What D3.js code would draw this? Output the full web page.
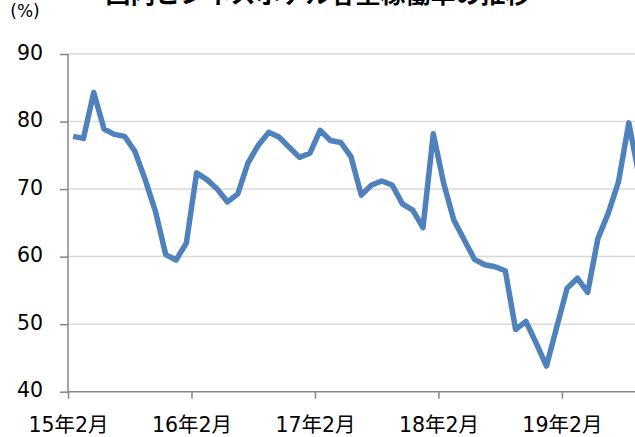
<!DOCTYPE html>
<meta charset="utf-8">
<style>
html, body {
  margin: 0;
  background: #fff;
}

.chart {
  display: block;
  font-family: "DejaVu Sans", "Noto Sans CJK JP", sans-serif;
}

.chart .grid line {
  stroke: #d9d9d9;
  stroke-width: 1.5;
}

.chart .axis path,
.chart .axis line {
  stroke: #868686;
  stroke-width: 1.5;
}

.chart .axis text {
  fill: #000;
  font-family: "DejaVu Sans", "Noto Sans CJK JP", sans-serif;
  font-size: 20.5px;
}

.chart .series {
  fill: none;
  stroke: #4f81bd;
  stroke-width: 5.5;
  stroke-linejoin: round;
}
</style>
<body>

<svg class="chart js-chart"></svg>

<script src="https://d3js.org/d3.v7.min.js"></script>
<script>
"use strict";

// 15年2月 から月次
var rates = [
  77.8, 77.5, 84.3, 78.9, 78.1, 77.8, 75.6, 71.4, 66.7, 60.3, 59.5, 62.0,
  72.4, 71.4, 70.0, 68.1, 69.3, 73.9, 76.5, 78.4, 77.7, 76.2, 74.7, 75.3,
  78.7, 77.2, 76.9, 74.8, 69.1, 70.6, 71.2, 70.6, 67.8, 66.9, 64.3, 78.2,
  70.9, 65.4, 62.5, 59.6, 58.8, 58.5, 57.9, 49.2, 50.4, 47.2, 43.8, 49.6,
  55.3, 56.8, 54.7, 62.7, 66.4, 71.1, 79.8, 71.9
];
var monthTicks = [0, 12, 24, 36, 48];
var monthLabels = ["15年2月", "16年2月", "17年2月", "18年2月", "19年2月"];
var yTicks = [40, 50, 60, 70, 80, 90];

var width = 635, height = 437;
var plotLeft = 68, plotTop = 54, plotBottom = 391.7;
var monthW = 10.29;

var svg = d3.select(".js-chart")
  .attr("width", width)
  .attr("height", height);

var x = d3.scaleLinear()
  .domain([0, 56])
  .range([plotLeft, plotLeft + 56 * monthW]);

var y = d3.scaleLinear()
  .domain([40, 90])
  .range([plotBottom, plotTop]);

// grid
svg.append("g")
  .attr("class", "grid")
  .selectAll("line")
  .data(yTicks.slice(1))
  .enter().append("line")
    .attr("x1", plotLeft)
    .attr("x2", width)
    .attr("y1", y)
    .attr("y2", y);

// y axis
var yAxis = svg.append("g")
  .attr("class", "axis")
  .attr("transform", "translate(" + plotLeft + ",0)")
  .call(d3.axisLeft(y).tickValues(yTicks).tickSize(8).tickSizeOuter(0).tickPadding(17));
yAxis.select(".domain").remove();
yAxis.append("line")
  .attr("y1", y(90)).attr("y2", y(40));
yAxis.selectAll(".tick text").attr("dy", "0.25em");

// x axis
var xAxis = svg.append("g")
  .attr("class", "axis")
  .attr("transform", "translate(0," + plotBottom + ")")
  .call(d3.axisBottom(x)
    .tickValues(monthTicks)
    .tickFormat(function (d, i) { return monthLabels[i]; })
    .tickSize(7)
    .tickSizeOuter(0)
    .tickPadding(19));
xAxis.select(".domain").attr("d", "M" + plotLeft + ",0H" + width);

// line
var line = d3.line()
  .x(function (d, i) { return x(i + 0.5); })
  .y(function (d) { return y(d); });

svg.append("path")
  .datum(rates)
  .attr("class", "series")
  .attr("d", line);

// unit and title (top edge cut off, as in the source image)
svg.append("text")
  .attr("x", 25)
  .attr("y", 17)
  .attr("text-anchor", "middle")
  .attr("font-size", 17)
  .text("(%)");

svg.append("text")
  .attr("x", 318)
  .attr("y", 3)
  .attr("text-anchor", "middle")
  .attr("font-size", 25)
  .attr("font-weight", "bold")
  .attr("font-family", "Noto Sans CJK JP")
  .text("国内ビジネスホテル客室稼働率の推移");
</script>
</body>
